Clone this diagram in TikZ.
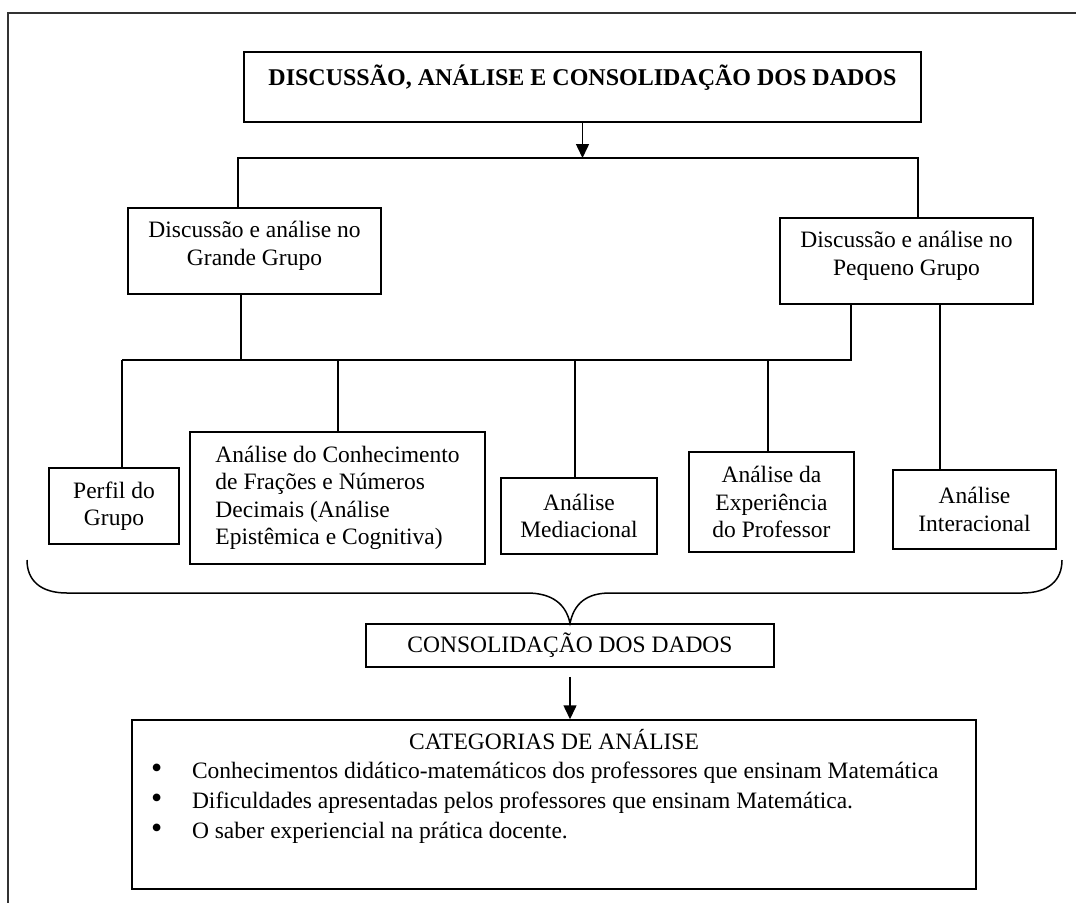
\documentclass[tikz,border=0pt]{standalone}
\usepackage{fontspec}
\setmainfont{Liberation Serif}
\usetikzlibrary{arrows.meta}
\begin{document}
\begin{tikzpicture}[x=1pt, y=-1pt, line width=1.5pt, >={Triangle[width=13pt,length=14pt]},
        font=\fontsize{23.5}{27.5}\selectfont,
        caixa/.style={draw, inner sep=0pt, align=center}]
        \useasboundingbox (0,0) rectangle (1076,903);
        \draw[black!80, line width=2pt] (1076,13) -- (8,13) -- (8,903);
        \node[caixa, minimum width=677pt, text height=33pt, text depth=37pt] (titulo) at (582.5,87) {\fontsize{24}{27.5}\selectfont\textbf{DISCUSSÃO, ANÁLISE E CONSOLIDAÇÃO DOS DADOS}};
        \node[caixa, minimum width=253pt, minimum height=86pt, text depth=15pt] (grande) at (254.5,251) {Discussão e análise no\\Grande Grupo};
        \node[caixa, minimum width=253pt, minimum height=86pt, text depth=15pt] (pequeno) at (906.5,261) {Discussão e análise no\\Pequeno Grupo};
        \node[caixa, minimum width=130pt, minimum height=76pt] (perfil) at (114,506) {Perfil do\\Grupo};
        \node[caixa, align=left, minimum width=295pt, minimum height=132pt] (conhecimento) at (337.5,498) {Análise do Conhecimento\\de Frações e Números\\Decimais (Análise\\Epistêmica e Cognitiva)};
        \node[caixa, minimum width=156pt, minimum height=76pt] (mediacional) at (579,516) {Análise\\Mediacional};
        \node[caixa, minimum width=165pt, minimum height=100pt] (experiencia) at (771.5,502) {Análise da\\Experiência\\do Professor};
        \node[caixa, minimum width=163pt, minimum height=79pt] (interacional) at (974.5,509.5) {Análise\\Interacional};
        \node[caixa, minimum width=408pt, minimum height=43pt] (consolidacao) at (570,645.5) {CONSOLIDAÇÃO DOS DADOS};
        \node[caixa] (categorias) at (554,804.5) {\begin{minipage}[c][169pt][t]{844pt}
            \fontsize{23.5}{29.7}\selectfont
            \vspace*{9pt}
            \centering CATEGORIAS DE ANÁLISE\par
            \raggedright
            \hspace*{19pt}\makebox[41pt][l]{\fontsize{32}{29.7}\selectfont\textbullet}Conhecimentos didático-matemáticos dos professores que ensinam Matemática\par
            \hspace*{19pt}\makebox[41pt][l]{\fontsize{32}{29.7}\selectfont\textbullet}Dificuldades apresentadas pelos professores que ensinam Matemática.\par
            \hspace*{19pt}\makebox[41pt][l]{\fontsize{32}{29.7}\selectfont\textbullet}O saber experiencial na prática docente.\par
            \end{minipage}};
        \coordinate (a1) at (238,158);
        \coordinate (a2) at (918,158);
        \coordinate (b1) at (241,360);
        \coordinate (b2) at (851,360);
        \draw[->] (titulo.south) -- (titulo.south |- a1);
        \draw (grande.north -| a1) -- (a1) -- (a2) -- (pequeno.north -| a2);
        \draw (grande.south -| b1) -- (b1);
        \draw (pequeno.south -| b2) -- (b2) -- (122,360);
        \foreach \no/\x in {perfil/122, conhecimento/338, mediacional/575, experiencia/768}
            \draw (\x,360) -- (\no.north -| \x,360);
        \draw (pequeno.south -| 940,0) -- (interacional.north -| 940,0);
        \draw (27,560) .. controls (27,580) and (40,593) .. (67,593) -- (527,593)
            .. controls (552,593) and (566,604) .. (consolidacao.north)
            .. controls (574,604) and (586,593) .. (610,593) -- (1022,593)
            .. controls (1049,593) and (1062,580) .. (1062,560);
        \draw[->, shorten <=9pt] (consolidacao.south) -- (categorias.north -| consolidacao.south);
\end{tikzpicture}
\end{document}
